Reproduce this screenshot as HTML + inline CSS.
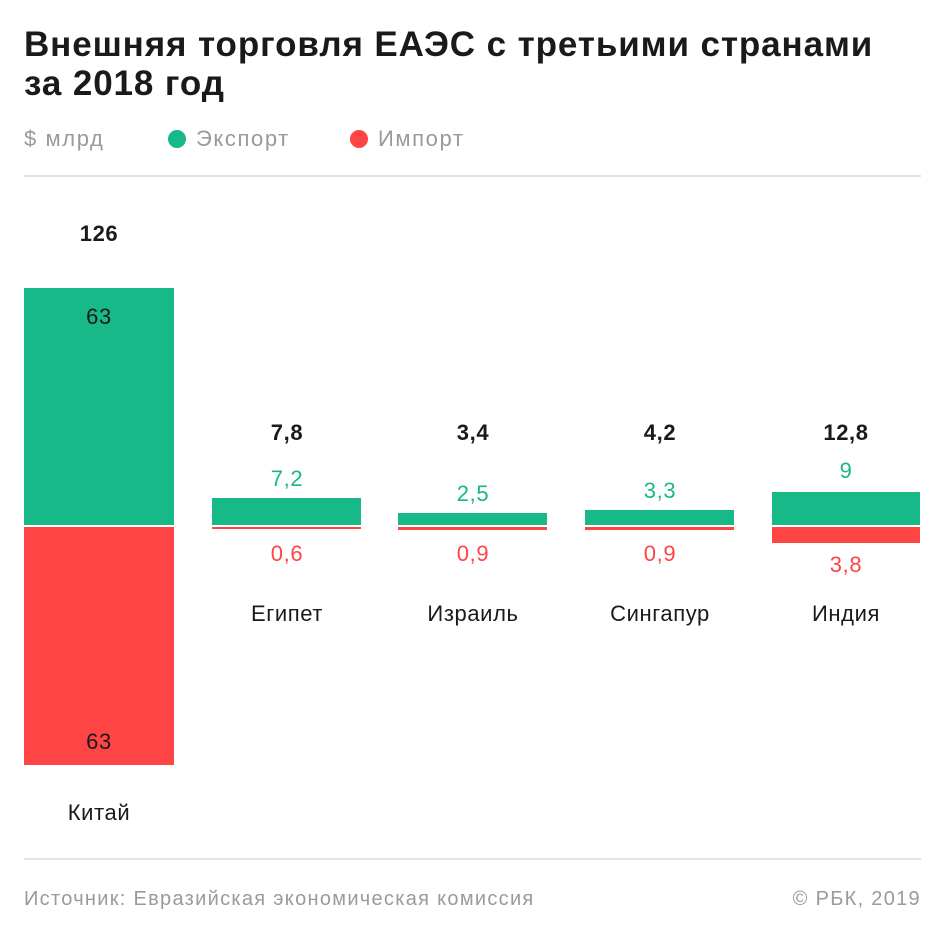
<!DOCTYPE html>
<html><head><meta charset="utf-8"><style>
body{margin:0;width:945px;height:945px;background:#fff;font-family:"Liberation Sans",sans-serif;position:relative;overflow:hidden}
.a{position:absolute}
.t{left:24px;top:25px;font-size:35px;font-weight:bold;line-height:39px;color:#1a1a1a;letter-spacing:0.9px;white-space:nowrap}
.g{background:#16b987}.r{background:#fe4444}
.c{text-align:center;width:150px;letter-spacing:0.6px}
.tot{font-weight:bold;font-size:22px;color:#1a1a1a}
.v{font-size:22px}
.gt{color:#16b987}.rt{color:#fe4444}
.n{font-size:22px;color:#1a1a1a}
.lg{font-size:22px;color:#9a9a9a;letter-spacing:1.6px}
.f{font-size:20px;color:#9a9a9a;letter-spacing:1.3px}
</style></head><body>
<div class="a t">Внешняя торговля ЕАЭС с третьими странами<br>за 2018 год</div>
<div class="a lg" style="left:24px;top:126px">$ млрд</div>
<div class="a g" style="left:168px;top:130px;width:18px;height:18px;border-radius:50%"></div>
<div class="a lg" style="left:196px;top:126px">Экспорт</div>
<div class="a r" style="left:350px;top:130px;width:18px;height:18px;border-radius:50%"></div>
<div class="a lg" style="left:378px;top:126px">Импорт</div>
<div class="a" style="left:24px;top:175px;width:897px;height:2px;background:#e3e3e3"></div>

<div class="a c tot" style="left:24px;top:221px">126</div>
<div class="a g" style="left:24px;top:288px;width:150px;height:237px"></div>
<div class="a r" style="left:24px;top:527px;width:150px;height:238px"></div>
<div class="a c n" style="left:24px;top:304px">63</div>
<div class="a c n" style="left:24px;top:729px">63</div>
<div class="a c n" style="left:24px;top:800px">Китай</div>

<div class="a c tot" style="left:212px;top:420px">7,8</div>
<div class="a c v gt" style="left:212px;top:466px">7,2</div>
<div class="a g" style="left:212px;top:498px;width:149px;height:27px"></div>
<div class="a r" style="left:212px;top:527px;width:149px;height:2px"></div>
<div class="a c v rt" style="left:212px;top:541px">0,6</div>
<div class="a c n" style="left:212px;top:601px">Египет</div>

<div class="a c tot" style="left:398px;top:420px">3,4</div>
<div class="a c v gt" style="left:398px;top:481px">2,5</div>
<div class="a g" style="left:398px;top:513px;width:149px;height:12px"></div>
<div class="a r" style="left:398px;top:527px;width:149px;height:3px"></div>
<div class="a c v rt" style="left:398px;top:541px">0,9</div>
<div class="a c n" style="left:398px;top:601px">Израиль</div>

<div class="a c tot" style="left:585px;top:420px">4,2</div>
<div class="a c v gt" style="left:585px;top:478px">3,3</div>
<div class="a g" style="left:585px;top:510px;width:149px;height:15px"></div>
<div class="a r" style="left:585px;top:527px;width:149px;height:3px"></div>
<div class="a c v rt" style="left:585px;top:541px">0,9</div>
<div class="a c n" style="left:585px;top:601px">Сингапур</div>

<div class="a c tot" style="left:771px;top:420px">12,8</div>
<div class="a c v gt" style="left:771px;top:458px">9</div>
<div class="a g" style="left:772px;top:492px;width:148px;height:33px"></div>
<div class="a r" style="left:772px;top:527px;width:148px;height:16px"></div>
<div class="a c v rt" style="left:771px;top:552px">3,8</div>
<div class="a c n" style="left:771px;top:601px">Индия</div>

<div class="a" style="left:24px;top:858px;width:897px;height:2px;background:#e3e3e3"></div>
<div class="a f" style="left:24px;top:888px">Источник: Евразийская экономическая комиссия</div>
<div class="a f" style="right:24px;top:888px">© РБК, 2019</div>
</body></html>
